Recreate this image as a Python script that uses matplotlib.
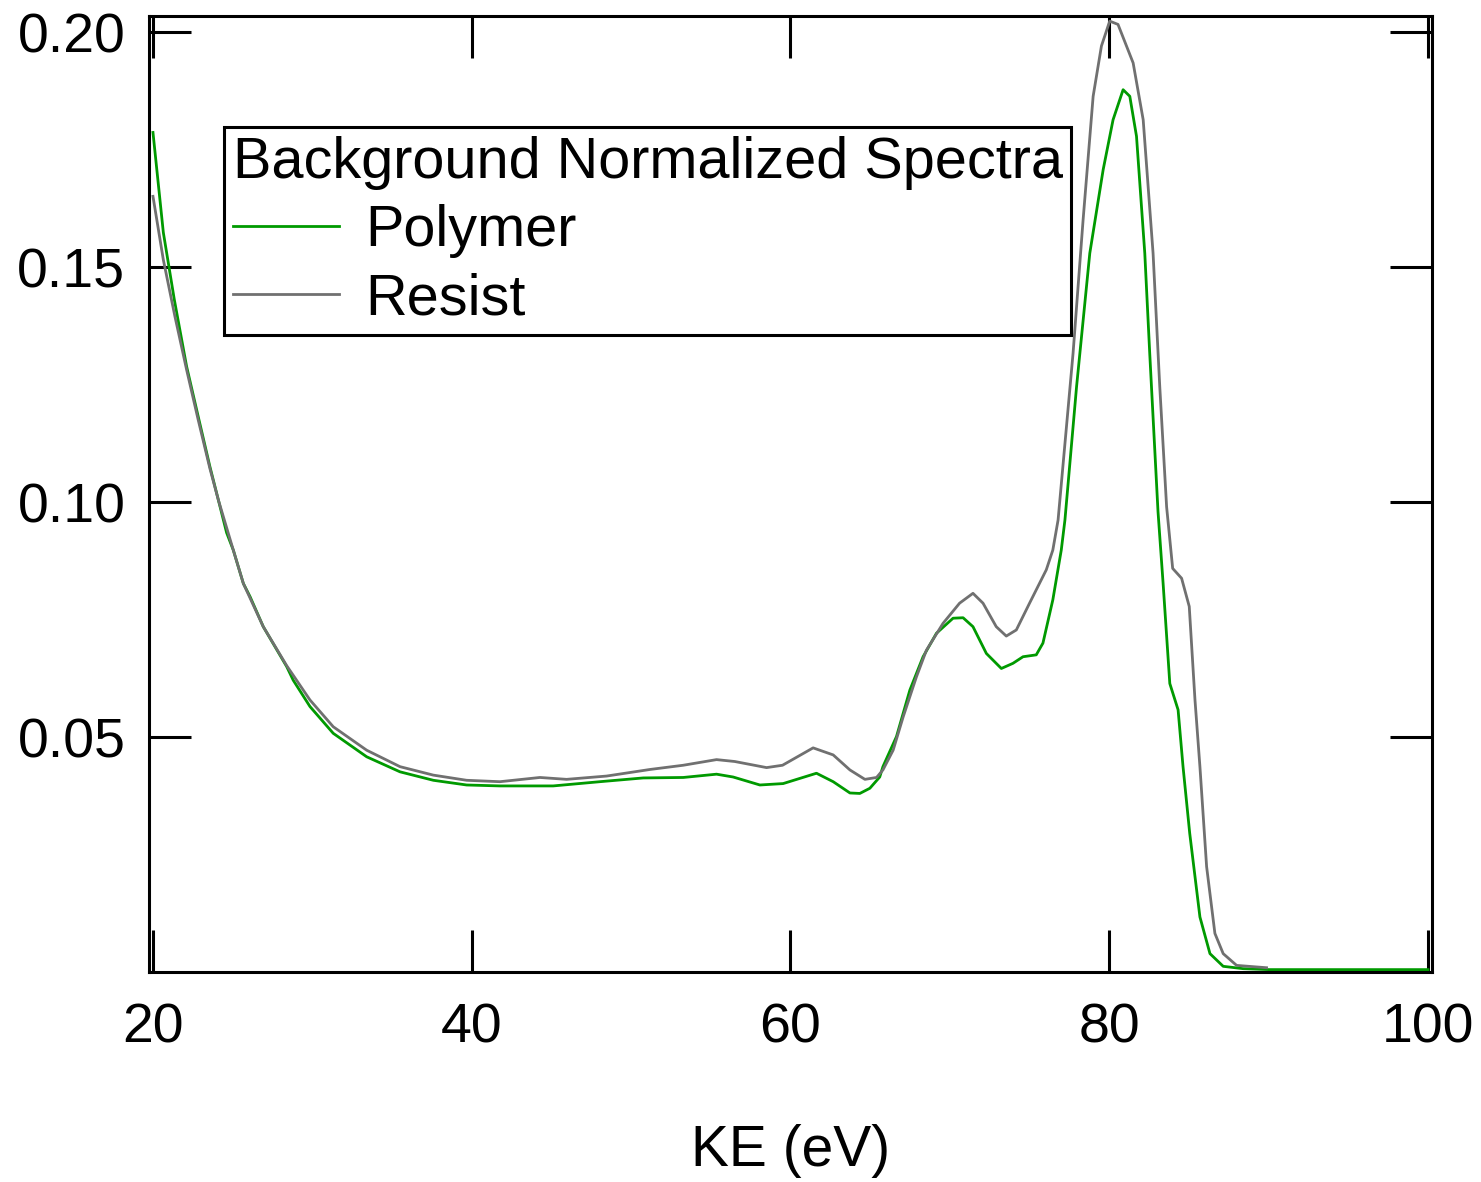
import numpy as np
import matplotlib.pyplot as plt

plt.rcParams['font.family'] = ['Liberation Sans', 'DejaVu Sans']

# Polymer spectrum (KE in eV, normalized intensity)
ke_polymer = [20.0, 20.65, 21.34, 22.11, 22.84, 23.57, 24.1, 24.62, 25.04, 25.67,
              26.09, 26.92, 28.39, 28.8, 29.85, 31.31, 33.41, 35.5, 37.59, 39.68,
              41.77, 43.8, 45.11, 48.04, 50.76, 53.27, 55.36, 56.4, 58.08, 59.54,
              61.63, 62.68, 63.73, 64.35, 64.98, 65.6, 65.8, 66.65, 67.49, 68.32,
              69.16, 70.2, 70.83, 71.45, 72.29, 73.23, 73.96, 74.59, 75.42, 75.84,
              76.46, 76.99, 77.22, 77.95, 78.78, 79.62, 80.24, 80.87, 81.29, 81.71,
              82.23, 82.54, 83.06, 83.38, 83.8, 84.32, 84.63, 85.05, 85.69, 86.32,
              87.15, 88.4, 90.0, 100.0]
int_polymer = [0.1787, 0.1574, 0.1431, 0.1289, 0.1182, 0.1076, 0.1005, 0.0935, 0.0898, 0.0827,
               0.0799, 0.0735, 0.0650, 0.0621, 0.0565, 0.0508, 0.0458, 0.0426, 0.0408, 0.0398,
               0.0396, 0.0396, 0.0396, 0.0405, 0.0413, 0.0414, 0.0421, 0.0415, 0.0398, 0.0401,
               0.0423, 0.0405, 0.0381, 0.0380, 0.0391, 0.0415, 0.0437, 0.0501, 0.0600, 0.0671,
               0.0721, 0.0753, 0.0754, 0.0735, 0.0678, 0.0646, 0.0657, 0.0671, 0.0675, 0.0700,
               0.0792, 0.0898, 0.0962, 0.1246, 0.1530, 0.1708, 0.1814, 0.1878, 0.1864, 0.1779,
               0.1530, 0.1317, 0.0980, 0.0827, 0.0614, 0.0558, 0.0437, 0.0295, 0.0117, 0.0039,
               0.0012, 0.0007, 0.0005, 0.0005]

# Resist spectrum
ke_resist = [20.0, 20.65, 21.38, 22.11, 22.84, 23.57, 24.1, 25.04, 25.67, 26.92,
             28.39, 29.85, 31.31, 33.41, 35.5, 37.59, 39.68, 41.77, 44.28, 45.95,
             48.46, 51.18, 53.27, 55.36, 56.5, 58.5, 59.5, 61.42, 62.68, 63.73,
             64.67, 65.4, 65.8, 66.44, 67.07, 67.9, 68.53, 69.57, 70.61, 71.45,
             72.08, 72.91, 73.54, 74.17, 75.0, 76.05, 76.46, 76.79, 77.73, 78.36,
             78.99, 79.51, 80.03, 80.55, 81.5, 82.13, 82.75, 83.17, 83.6, 83.98,
             84.54, 85.02, 85.38, 85.69, 86.11, 86.63, 87.15, 87.99, 89.87]
int_resist = [0.1651, 0.1516, 0.1395, 0.1282, 0.1175, 0.1072, 0.1005, 0.0898, 0.0827, 0.0735,
              0.0652, 0.0579, 0.0522, 0.0472, 0.0437, 0.0419, 0.0408, 0.0405, 0.0414, 0.0410,
              0.0417, 0.0431, 0.0440, 0.0452, 0.0448, 0.0435, 0.0440, 0.0477, 0.0462, 0.0430,
              0.0410, 0.0414, 0.0430, 0.0472, 0.0543, 0.0628, 0.0685, 0.0742, 0.0785, 0.0806,
              0.0785, 0.0735, 0.0715, 0.0728, 0.0785, 0.0856, 0.0898, 0.0962, 0.1317, 0.1601,
              0.1864, 0.1971, 0.2024, 0.2017, 0.1935, 0.1814, 0.1530, 0.1246, 0.0990, 0.0859,
              0.0838, 0.0778, 0.0579, 0.0437, 0.0224, 0.0082, 0.0039, 0.0014, 0.0009]

xticks = [20, 40, 60, 80, 100]
yticks = [0.05, 0.10, 0.15, 0.20]

fig = plt.figure(figsize=(14.81, 11.82), dpi=100)
ax = fig.add_axes([0.1006, 0.1777, 0.8663, 0.8088])

ax.plot(ke_polymer, int_polymer, color='#009a00', lw=2.0, label='Polymer')
ax.plot(ke_resist, int_resist, color='#707070', lw=2.0, label='Resist')

ax.set_xlim(19.75, 100.25)
ax.set_ylim(0, 0.2035)
ax.set_xticks(xticks)
ax.set_yticks(yticks)
ax.set_xticklabels([str(t) for t in xticks])
ax.set_yticklabels(['%.2f' % t for t in yticks])

ax.tick_params(direction='in', length=30, width=2.2, top=True, right=True,
               labelsize=40, colors='black')
ax.tick_params(axis='y', pad=17)
ax.tick_params(axis='x', pad=22)
for s in ax.spines.values():
    s.set_linewidth(2.2)

ax.set_xlabel('KE (eV)', fontsize=41, labelpad=50)

leg = ax.legend(title='Background Normalized Spectra', loc='upper left',
                bbox_to_anchor=(0.0585, 0.8839), fontsize=41.5, title_fontsize=41.5,
                frameon=True, fancybox=False, framealpha=1, edgecolor='black',
                handlelength=1.85, handletextpad=0.45, borderpad=0.15,
                labelspacing=0.25, borderaxespad=0, alignment='left')
leg.get_frame().set_linewidth(2.2)

fig.savefig('out.png', dpi=100)
